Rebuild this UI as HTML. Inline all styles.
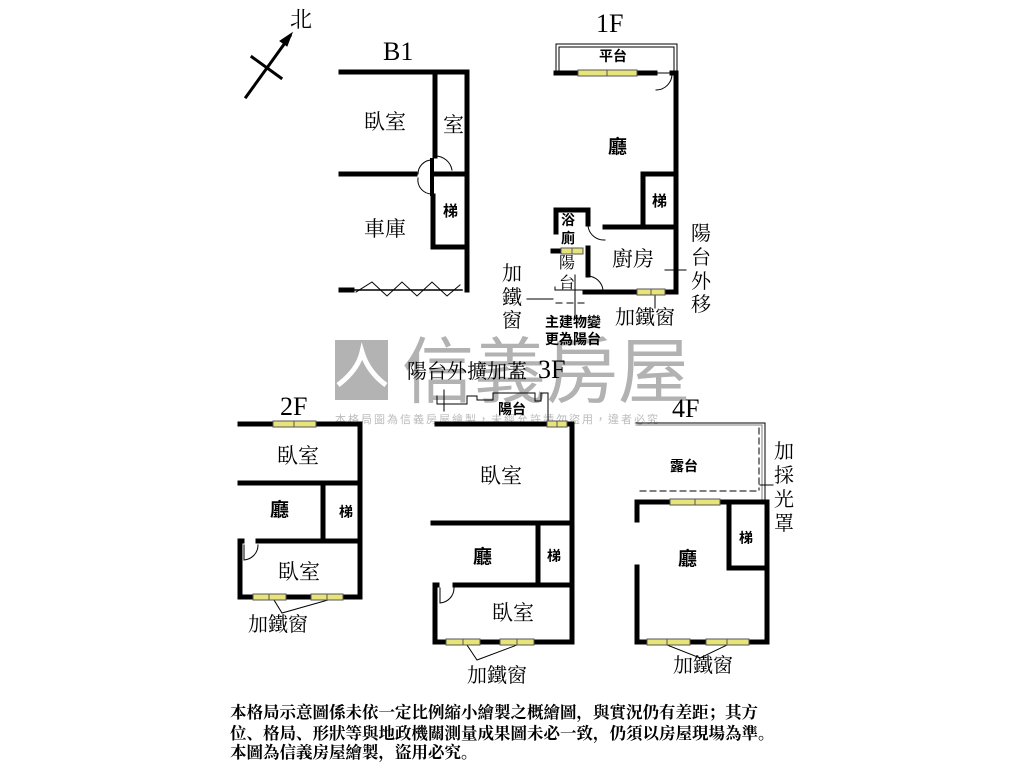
<!DOCTYPE html>
<html><head><meta charset="utf-8"><style>
html,body{margin:0;padding:0;background:#fff;}
svg{display:block}
text{font-family:"Liberation Serif","Noto Serif CJK SC","Noto Sans CJK TC",serif;fill:#000}
.b{font-family:"Liberation Sans","Noto Sans CJK TC",sans-serif;font-weight:bold}
.n{font-family:"Noto Serif CJK SC","Noto Sans CJK TC",serif;font-weight:bold}
</style></head><body>
<svg width="1024" height="768" viewBox="0 0 1024 768" xmlns="http://www.w3.org/2000/svg">
<!-- watermark -->
<rect x="335" y="340" width="53" height="60" fill="#999" opacity="0.75"/>
<path d="M338 385 Q358 370 362 352 Q368 372 386 385" fill="none" stroke="#fff" stroke-width="5"/>
<text x="402" y="397" font-size="72" style="fill:#999;opacity:.75;font-family:'Noto Sans CJK TC',sans-serif">信義房屋</text>
<text x="335" y="423" font-size="11" style="fill:#bbb;font-family:'Noto Sans CJK TC',sans-serif;letter-spacing:2px">本格局圖為信義房屋繪製，未經允許請勿盜用，違者必究</text>

<g stroke="#000" fill="none" stroke-linecap="square">
<line x1="246" y1="97" x2="290" y2="36" stroke-width="3"/>
<polygon points="292,33 280,41 287,46" fill="#000"/>
<line x1="252" y1="57" x2="281" y2="78" stroke-width="3"/>

<!-- B1 -->
<g stroke-width="5">
<polyline points="341,72 467,72 467,290"/>
<line x1="435" y1="72" x2="435" y2="156"/>
<line x1="341" y1="174" x2="415" y2="174"/>
<line x1="435" y1="174" x2="467" y2="174"/>
<polyline points="433,196 433,247 467,247"/>
<line x1="341" y1="290" x2="352" y2="290"/>
</g>
<line x1="352" y1="290" x2="462" y2="290" stroke-width="1.5"/>
<polyline points="356,292 372,282 387,296 402,282 417,296 432,282 447,296 460,285" stroke-width="1"/>
<path d="M435 156 A17 17 0 0 1 452 170" stroke-width="1"/>
<path d="M418 174 A14 14 0 0 1 432 160" stroke-width="1"/>
<path d="M418 178 A14 14 0 0 0 432 194" stroke-width="1"/>
<line x1="432" y1="160" x2="432" y2="194" stroke-width="4"/>

<!-- 1F -->
<rect x="556" y="44" width="121" height="29" stroke-width="1"/>
<rect x="559" y="47" width="115" height="26" stroke-width="1"/>
<g stroke-width="5">
<line x1="556" y1="73" x2="578" y2="73"/>
<line x1="637" y1="73" x2="655" y2="73"/>
<polyline points="672,73 676,73 676,292 585,292"/>
<polyline points="643,227 643,174 676,174"/>
<line x1="605" y1="227" x2="676" y2="227"/>
<polyline points="556,232 556,210 588,210 588,224"/>
<line x1="588" y1="248" x2="588" y2="275"/>
<line x1="553" y1="251" x2="560" y2="251"/>
</g>
<path d="M672 74 A16 16 0 0 1 656 90" stroke-width="1"/>
<path d="M588 226 A16 16 0 0 0 605 240" stroke-width="1"/>
<path d="M588 276 A16 16 0 0 1 603 290" stroke-width="1"/>
<line x1="555" y1="290" x2="585" y2="290" stroke-width="1"/>
<line x1="555" y1="287" x2="555" y2="290" stroke-width="1"/>
<line x1="556" y1="303" x2="586" y2="303" stroke-width="1" stroke-dasharray="6,5"/>
<line x1="527" y1="299" x2="553" y2="299" stroke-width="1"/>
<line x1="575" y1="275" x2="575" y2="318" stroke-width="1"/>
<line x1="655" y1="292" x2="655" y2="308" stroke-width="1"/>
<line x1="665" y1="270" x2="686" y2="270" stroke-width="1"/>

<!-- 2F -->
<g stroke-width="5">
<line x1="240" y1="424" x2="273" y2="424"/>
<polyline points="316,424 360,424 360,597 343,597"/>
<line x1="240" y1="483" x2="360" y2="483"/>
<line x1="323" y1="483" x2="323" y2="541"/>
<line x1="258" y1="541" x2="360" y2="541"/>
<polyline points="242,541 240,541 240,597 253,597"/>
<line x1="286" y1="597" x2="311" y2="597"/>
</g>
<path d="M244 560 A15 15 0 0 0 258 545" stroke-width="1"/>
<line x1="244" y1="545" x2="244" y2="560" stroke-width="1"/>
<polyline points="274,600 282,613 328,600" stroke-width="1"/>

<!-- 3F -->
<polyline points="437,404 467,404 467,396 477,396 477,400 493,400 493,393 535,393 535,401 541,401 541,393 548,393 548,424" stroke-width="1"/>
<line x1="437" y1="396" x2="437" y2="404" stroke-width="1"/>
<line x1="444" y1="390" x2="444" y2="411" stroke-width="1"/>
<g stroke-width="5">
<polyline points="437,424 547,424"/>
<polyline points="567,424 572,424 572,642 534,642"/>
<line x1="433" y1="523" x2="572" y2="523"/>
<line x1="538" y1="523" x2="538" y2="585"/>
<line x1="455" y1="585" x2="572" y2="585"/>
<polyline points="437,585 435,585 435,642 446,642"/>
<line x1="480" y1="642" x2="500" y2="642"/>
</g>
<path d="M440 603 A15 15 0 0 0 454 588" stroke-width="1"/>
<line x1="440" y1="588" x2="440" y2="603" stroke-width="1"/>
<polyline points="467,645 477,660 517,645" stroke-width="1"/>

<!-- 4F -->
<polyline points="636,423 765,423 765,502" stroke-width="1"/>
<polyline points="636,425 762,425 762,502" stroke-width="1" opacity="0.5"/>
<line x1="759" y1="428" x2="759" y2="490" stroke-width="1" stroke-dasharray="6,4"/>
<line x1="640" y1="491" x2="759" y2="491" stroke-width="1" stroke-dasharray="6,4"/>
<line x1="760" y1="485" x2="773" y2="485" stroke-width="1"/>
<g stroke-width="5">
<polyline points="637,520 637,502 670,502"/>
<line x1="720" y1="502" x2="767" y2="502"/>
<polyline points="767,502 767,642 749,642"/>
<polyline points="729,503 729,568 767,568"/>
<polyline points="637,567 637,642 647,642"/>
<line x1="690" y1="642" x2="706" y2="642"/>
</g>
<polyline points="667,645 700,658 727,645" stroke-width="1"/>
</g>

<!-- windows -->
<g stroke="#555" stroke-width="1" fill="#e8e47a">
<rect x="578" y="70" width="59" height="6"/><line x1="607" y1="70" x2="607" y2="76"/>
<rect x="561" y="248" width="22" height="6"/><line x1="572" y1="248" x2="572" y2="254"/>
<rect x="637" y="289" width="28" height="6"/><line x1="651" y1="289" x2="651" y2="295"/>
<rect x="273" y="421" width="43" height="6"/><line x1="294" y1="421" x2="294" y2="427"/>
<rect x="253" y="594" width="33" height="6"/><line x1="269" y1="594" x2="269" y2="600"/>
<rect x="311" y="594" width="32" height="6"/><line x1="327" y1="594" x2="327" y2="600"/>
<rect x="547" y="421" width="20" height="6"/><line x1="557" y1="421" x2="557" y2="427"/>
<rect x="446" y="639" width="34" height="6"/><line x1="463" y1="639" x2="463" y2="645"/>
<rect x="500" y="639" width="34" height="6"/><line x1="517" y1="639" x2="517" y2="645"/>
<rect x="670" y="499" width="50" height="6"/><line x1="695" y1="499" x2="695" y2="505"/>
<rect x="647" y="639" width="43" height="6"/><line x1="667" y1="639" x2="667" y2="645"/>
<rect x="706" y="639" width="43" height="6"/><line x1="727" y1="639" x2="727" y2="645"/>
</g>

<!-- labels -->
<text x="290" y="27" font-size="22">北</text>
<text x="383" y="60" font-size="26">B1</text>
<text x="596" y="32" font-size="26">1F</text>
<text x="364" y="129" font-size="21">臥室</text>
<text x="443" y="132" font-size="21">室</text>
<text x="364" y="236" font-size="21">車庫</text>
<text x="443" y="216" font-size="15" class="b">梯</text>
<text x="599" y="61" font-size="14" class="b">平台</text>
<text x="608" y="153" font-size="19" class="b">廳</text>
<text x="652" y="206" font-size="15" class="b">梯</text>
<text x="561" y="225" font-size="14" class="b">浴</text>
<text x="561" y="243" font-size="14" class="b">廁</text>
<text x="559" y="268" font-size="16">陽</text>
<text x="559" y="288" font-size="16">台</text>
<text x="612" y="266" font-size="21">廚房</text>
<text x="502" y="280" font-size="20">加</text>
<text x="502" y="304" font-size="20">鐵</text>
<text x="502" y="327" font-size="20">窗</text>
<text x="545" y="327" font-size="14" class="b">主建物變</text>
<text x="545" y="344" font-size="14" class="b">更為陽台</text>
<text x="615" y="324" font-size="20">加鐵窗</text>
<text x="691" y="240" font-size="20">陽</text>
<text x="691" y="264" font-size="20">台</text>
<text x="691" y="288" font-size="20">外</text>
<text x="691" y="311" font-size="20">移</text>

<text x="280" y="415" font-size="26">2F</text>
<text x="277" y="463" font-size="21">臥室</text>
<text x="270" y="516" font-size="19" class="b">廳</text>
<text x="339" y="517" font-size="14" class="b">梯</text>
<text x="278" y="579" font-size="21">臥室</text>
<text x="248" y="631" font-size="20">加鐵窗</text>

<text x="407" y="378" font-size="20">陽台外擴加蓋</text>
<text x="538" y="378" font-size="26">3F</text>
<text x="498" y="414" font-size="14" class="b">陽台</text>
<text x="480" y="483" font-size="21">臥室</text>
<text x="473" y="563" font-size="19" class="b">廳</text>
<text x="547" y="561" font-size="14" class="b">梯</text>
<text x="492" y="620" font-size="21">臥室</text>
<text x="467" y="682" font-size="20">加鐵窗</text>

<text x="672" y="417" font-size="26">4F</text>
<text x="670" y="471" font-size="14" class="b">露台</text>
<text x="678" y="565" font-size="19" class="b">廳</text>
<text x="739" y="543" font-size="14" class="b">梯</text>
<text x="774" y="458" font-size="20">加</text>
<text x="774" y="482" font-size="20">採</text>
<text x="774" y="506" font-size="20">光</text>
<text x="774" y="530" font-size="20">罩</text>
<text x="673" y="672" font-size="20">加鐵窗</text>

<text x="230" y="718" font-size="16.5" class="n">本格局示意圖係未依一定比例縮小繪製之概繪圖，與實況仍有差距；其方</text>
<text x="230" y="739" font-size="16.5" class="n">位、格局、形狀等與地政機關測量成果圖未必一致，仍須以房屋現場為準。</text>
<text x="230" y="758" font-size="16.5" class="n">本圖為信義房屋繪製，盜用必究。</text>
</svg>
</body></html>
